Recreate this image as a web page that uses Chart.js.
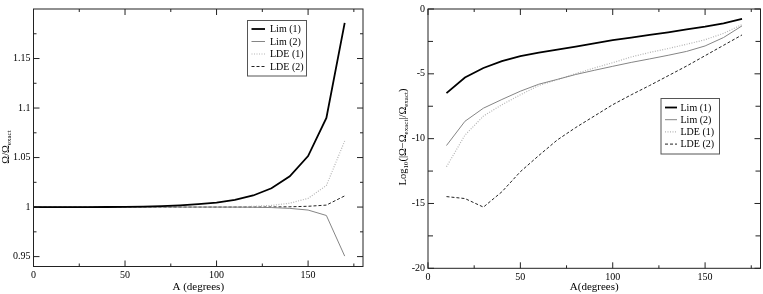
<!DOCTYPE html>
<html><head><meta charset="utf-8">
<script src="https://cdn.jsdelivr.net/npm/chart.js@4.4.0/dist/chart.umd.min.js"></script>
<style>
html,body{margin:0;padding:0;background:#fff;width:763px;height:294px;overflow:hidden}
canvas{position:absolute;top:0}
#c1{left:0}
#c2{left:383px}
</style></head><body>
<canvas id="c1" width="372" height="294"></canvas>
<canvas id="c2" width="380" height="294"></canvas>
<script>
// ---------- data ----------
const anglesLeft = [0,10,20,30,40,50,60,70,80,90,100,110,120,130,140,150,160,170];
const ratioLim1 = [1,1,1.00001,1.00003,1.0001,1.0002,1.0005,1.001,1.0018,1.003,1.0045,1.0072,1.0117,1.019,1.031,1.0515,1.09,1.186];
const ratioLim2 = [1,1,1,1,1,1,1,1,1,0.99999,0.99998,0.99993,0.9998,0.9995,0.9987,0.997,0.9915,0.9505];
const ratioLde1 = [1,1,1,1,1,1,1,1.00001,1.00003,1.00007,1.00015,1.0003,1.0007,1.0017,1.0039,1.0088,1.0218,1.0668];
const ratioLde2 = [1,1,1,1,1,1,1,1,1,1,1.00001,1.00002,1.00005,1.0001,1.0003,1.0008,1.002,1.0113];

const anglesRight = [10,20,30,40,50,60,70,80,90,100,110,120,130,140,150,160,170];
const logLim1 = [-6.49,-5.28,-4.55,-4.02,-3.63,-3.37,-3.13,-2.9,-2.65,-2.4,-2.2,-2.0,-1.8,-1.58,-1.36,-1.1,-0.76];
const logLim2 = [-10.53,-8.66,-7.65,-6.98,-6.34,-5.8,-5.43,-5.05,-4.73,-4.42,-4.12,-3.85,-3.57,-3.27,-2.85,-2.2,-1.3];
const logLde1 = [-12.17,-9.73,-8.26,-7.38,-6.62,-5.9,-5.46,-4.98,-4.55,-4.14,-3.7,-3.35,-3.05,-2.72,-2.37,-1.88,-1.2];
const logLde2 = [-14.47,-14.62,-15.28,-14.1,-12.55,-11.3,-10.1,-9.14,-8.26,-7.38,-6.62,-5.9,-5.15,-4.4,-3.6,-2.8,-2.0];

const seriesNames = ['Lim (1)','Lim (2)','LDE (1)','LDE (2)'];
const xTickLabels = [0,50,100,150];
const xMinorTicks = [25,75,125,175];
const leftYTicks = [0.95,1,1.05,1.1,1.15];
const leftYMinor = [0.975,1.025,1.075,1.125,1.175];
const rightYTicks = [0,-5,-10,-15,-20];
const rightYMinor = [-2.5,-7.5,-12.5,-17.5];

// ---------- styles ----------
const FONT = "'Liberation Serif','Times New Roman',serif";
const styles = [
  {borderColor:'#000', borderWidth:1.8, borderDash:[]},
  {borderColor:'#858585', borderWidth:1, borderDash:[]},
  {borderColor:'#b5b5b5', borderWidth:1.2, borderDash:[1,1.5]},
  {borderColor:'#222', borderWidth:1, borderDash:[3,2]}
];

function pts(xs, ys){ return xs.map((x,i)=>({x:x, y:ys[i]})); }

const framePlugin = {
  id:'frame',
  afterDatasetsDraw(chart, args, opts){
    const ctx = chart.ctx, a = chart.chartArea;
    const xs = chart.scales.x, ys = chart.scales.y;
    ctx.save();
    ctx.strokeStyle = '#222'; ctx.lineWidth = 1;
    ctx.strokeRect(a.left, a.top, a.right-a.left, a.bottom-a.top);
    ctx.beginPath();
    const tick = (vals, len) => {
      vals.forEach(v=>{
        const px = xs.getPixelForValue(v);
        if (px < a.left-0.5 || px > a.right+0.5) return;
        ctx.moveTo(px, a.bottom); ctx.lineTo(px, a.bottom-len);
        ctx.moveTo(px, a.top); ctx.lineTo(px, a.top+len);
      });
    };
    const ytick = (vals, len) => {
      vals.forEach(v=>{
        const py = ys.getPixelForValue(v);
        if (py < a.top-0.5 || py > a.bottom+0.5) return;
        ctx.moveTo(a.left, py); ctx.lineTo(a.left+len, py);
        ctx.moveTo(a.right, py); ctx.lineTo(a.right-len, py);
      });
    };
    tick(opts.xMajor, 6); tick(opts.xMinor, 3);
    ytick(opts.yMajor, 6); ytick(opts.yMinor, opts.yMinorLen || 3);
    ctx.stroke();
    ctx.restore();
  }
};

const legendPlugin = {
  id:'boxLegend',
  afterDraw(chart, args, o){
    const ctx = chart.ctx;
    ctx.save();
    ctx.fillStyle = '#fff';
    ctx.fillRect(o.x, o.y, o.w, o.h);
    ctx.strokeStyle = '#555'; ctx.lineWidth = 1;
    ctx.strokeRect(o.x, o.y, o.w, o.h);
    chart.data.datasets.forEach((d,i)=>{
      const y = o.y0 + i*o.step;
      ctx.beginPath();
      ctx.strokeStyle = d.borderColor; ctx.lineWidth = d.borderWidth;
      ctx.setLineDash(d.borderDash || []);
      ctx.moveTo(o.lx0, y); ctx.lineTo(o.lx1, y); ctx.stroke();
      ctx.setLineDash([]);
      ctx.fillStyle = '#000';
      ctx.font = o.fontSize + 'px ' + FONT;
      ctx.textBaseline = 'middle'; ctx.textAlign = 'left';
      ctx.fillText(d.label, o.tx, y+0.5);
    });
    ctx.restore();
  }
};

const yTitlePlugin = {
  id:'yTitle',
  afterDraw(chart, args, o){
    const ctx = chart.ctx;
    ctx.save();
    ctx.translate(o.cx, o.cy);
    ctx.rotate(-Math.PI/2);
    ctx.fillStyle = '#000';
    ctx.textBaseline = 'middle'; ctx.textAlign = 'left';
    let total = 0;
    o.parts.forEach(p=>{
      ctx.font = (p.sub ? o.subSize : o.size) + 'px ' + FONT;
      total += ctx.measureText(p.t).width;
    });
    let x = -total/2;
    o.parts.forEach(p=>{
      ctx.font = (p.sub ? o.subSize : o.size) + 'px ' + FONT;
      ctx.fillText(p.t, x, p.sub ? 3 : 0);
      x += ctx.measureText(p.t).width;
    });
    ctx.restore();
  }
};

function makeChart(id, xs, ys, cfg){
  const datasets = ys.map((arr,i)=>Object.assign({
    label: seriesNames[i], data: pts(xs, arr), pointRadius:0, fill:false, tension:0
  }, styles[i]));
  return new Chart(document.getElementById(id), {
    type:'line',
    data:{datasets},
    plugins:[framePlugin, legendPlugin, yTitlePlugin],
    options:{
      responsive:false, animation:false, devicePixelRatio:1,
      layout:{padding:cfg.padding},
      plugins:{
        legend:{display:false}, tooltip:{enabled:false},
        frame:{xMajor:xTickLabels, xMinor:xMinorTicks, yMajor:cfg.yTicks, yMinor:cfg.yMinor, yMinorLen:cfg.yMinorLen},
        boxLegend:cfg.legend,
        yTitle:cfg.yTitle
      },
      scales:{
        x:{
          type:'linear', min:0, max:180,
          grid:{display:false, drawTicks:false}, border:{display:false},
          afterBuildTicks(s){ s.ticks = xTickLabels.map(v=>({value:v})); },
          afterFit(s){ s.height = cfg.xHeight; },
          ticks:{color:'#000', font:{family:FONT, size:10}, padding:3, maxRotation:0, autoSkip:false,
                 callback:v=>String(v)},
          title:{display:true, text:cfg.xTitle, color:'#000', font:{family:FONT, size:11}, padding:{top:0,bottom:0.5}}
        },
        y:{
          type:'linear', min:cfg.yMin, max:cfg.yMax,
          grid:{display:false, drawTicks:false}, border:{display:false},
          afterBuildTicks(s){ s.ticks = cfg.yTicks.map(v=>({value:v})); },
          afterFit(s){ s.width = cfg.yWidth; },
          ticks:{color:'#000', font:{family:FONT, size:10}, padding:3, autoSkip:false,
                 callback:v=>String(+v.toFixed(3))}
        }
      }
    }
  });
}

makeChart('c1', anglesLeft, [ratioLim1, ratioLim2, ratioLde1, ratioLde2], {
  padding:{top:0.5, right:9, left:0, bottom:0},
  xHeight:27.5, yWidth:33.5,
  yMin:0.94, yMax:1.2, yTicks:leftYTicks, yMinor:leftYMinor, yMinorLen:3,
  xTitle:'A (degrees)',
  legend:{x:247.5, y:20.5, w:59, h:55.5, y0:29, step:12.5, lx0:251.5, lx1:265, tx:270, fontSize:10},
  yTitle:{cx:6, cy:147, size:10.5, subSize:7, parts:[{t:'Ω/Ω'},{t:'exact',sub:true}]}
});

makeChart('c2', anglesRight, [logLim1, logLim2, logLde1, logLde2], {
  padding:{top:4.5, right:2.5, left:0, bottom:0},
  xHeight:25.7, yWidth:45,
  yMin:-20, yMax:0, yTicks:rightYTicks, yMinor:rightYMinor, yMinorLen:5,
  xTitle:'A(degrees)',
  legend:{x:278, y:98.5, w:58.5, h:55.5, y0:107.5, step:12.2, lx0:282, lx1:294, tx:297.5, fontSize:10},
  yTitle:{cx:20, cy:137, size:10.5, subSize:7, parts:[{t:'Log'},{t:'10',sub:true},{t:'(|Ω−Ω'},{t:'exact',sub:true},{t:'|/Ω'},{t:'exact',sub:true},{t:')'}]}
});
</script></body></html>
